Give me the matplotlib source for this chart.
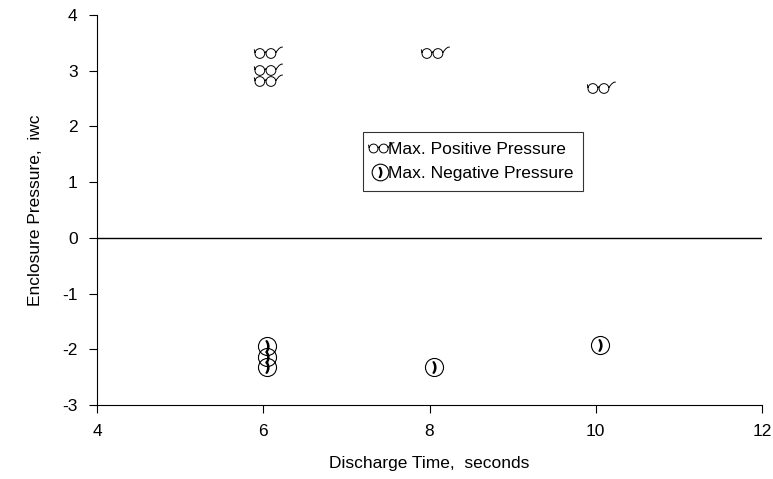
import numpy as np
import matplotlib.pyplot as plt
from matplotlib.path import Path

plt.rcParams['axes.unicode_minus'] = False

pos_x = [6.05, 6.05, 6.05, 8.05, 10.05]
pos_y = [3.32, 3.02, 2.82, 3.32, 2.69]
neg_x = [6.05, 6.05, 6.05, 8.05, 10.05]
neg_y = [-1.94, -2.14, -2.32, -2.32, -1.92]

# glasses marker: two lenses and a curved arm
c1 = Path.circle((-0.55, 0), 0.35)
c2 = Path.circle((0.25, 0), 0.35)
bridge = Path([(-0.2, 0.05), (-0.1, 0.15), (-0.1, 0.15)], [Path.MOVETO, Path.LINETO, Path.LINETO])
arm = Path([(0.6, 0.05), (0.8, 0.4), (1.0, 0.5), (1.1, 0.45)],
           [Path.MOVETO, Path.CURVE4, Path.CURVE4, Path.CURVE4])
left = Path([(-0.9, 0.05), (-0.95, 0.3)], [Path.MOVETO, Path.LINETO])
glasses = Path.make_compound_path(c1, c2, bridge, arm, left)

fig = plt.figure(figsize=(7.73, 4.79), dpi=100)
ax = fig.add_axes([97/773, 1-405/479, (762-97)/773, (405-15)/479])
ax.plot(pos_x, pos_y, ls='none', marker=glasses, ms=22, mfc='none', mec='black', mew=0.7)
ax.plot(neg_x, neg_y, ls='none', marker='o', ms=13, mfc='none', mec='black', mew=0.8)
ax.plot(neg_x, neg_y, ls='none', marker='$)$', ms=8, color='black')
h1, = ax.plot([], [], ls='none', marker=glasses, ms=20, mfc='none', mec='black', mew=0.7)
h2a, = ax.plot([], [], ls='none', marker='o', ms=12, mfc='none', mec='black', mew=0.8)
h2b, = ax.plot([], [], ls='none', marker='$)$', ms=7, color='black')
ax.axhline(0, color='black', lw=1)
ax.set_xlim(4, 12)
ax.set_ylim(-3, 4)
ax.set_xticks([4, 6, 8, 10, 12])
ax.set_yticks(range(-3, 5))
for s in ['top', 'right']:
    ax.spines[s].set_visible(False)
ax.tick_params(direction='out', labelsize=12.5, length=6, pad=8)
ax.set_xlabel('Discharge Time,  seconds', fontsize=12.5, family='Liberation Sans', labelpad=12)
ax.set_ylabel('Enclosure Pressure,  iwc', fontsize=12.5, family='Liberation Sans', labelpad=14)
for t in ax.get_xticklabels() + ax.get_yticklabels():
    t.set_family('Liberation Sans')
leg = ax.legend([h1, (h2a, h2b)], ['Max. Positive Pressure', 'Max. Negative Pressure'],
                loc='upper left', bbox_to_anchor=(0.40, 0.70), fancybox=False,
                edgecolor='black', handlelength=0.9, handletextpad=0.0, borderpad=0.55,
                labelspacing=0.55, prop={'family': 'Liberation Sans', 'size': 12.5}, borderaxespad=0)
leg.get_frame().set_linewidth(0.8)
fig.savefig('out.png', dpi=100)
